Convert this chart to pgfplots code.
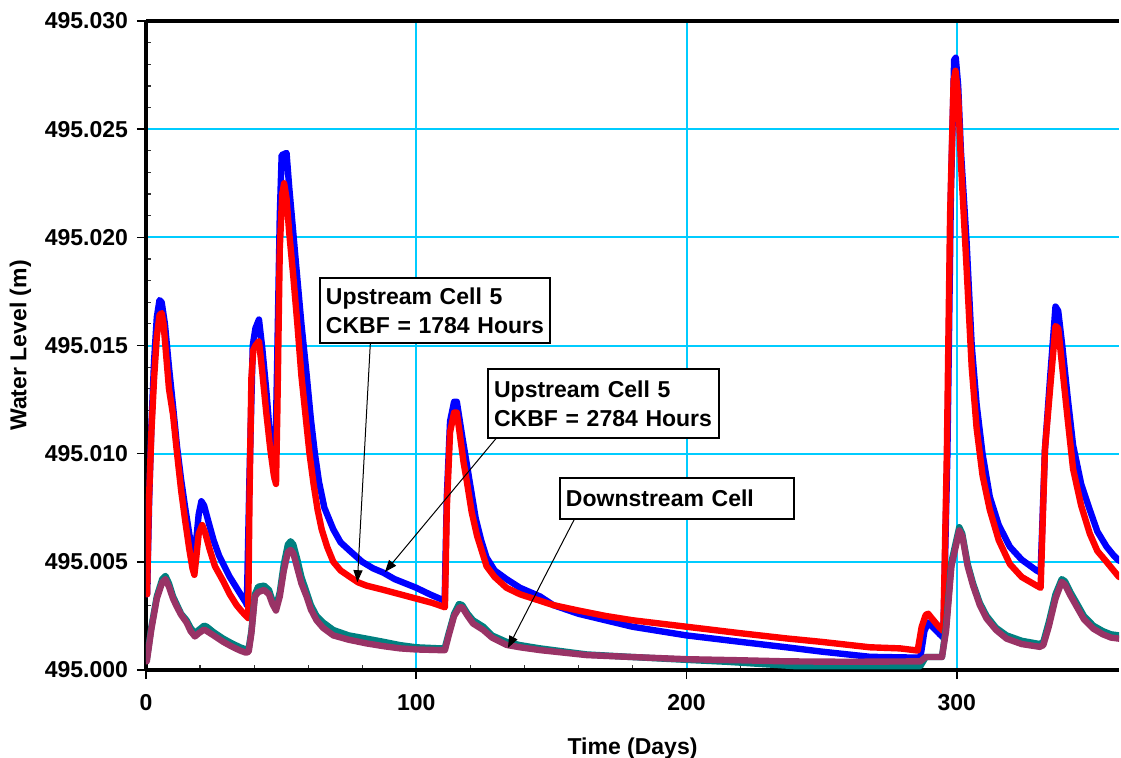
\documentclass[border=0pt]{standalone}
\usepackage{fontspec}
\setmainfont{Liberation Sans}
\usepackage{pgfplots}
\pgfplotsset{compat=1.18}
\usetikzlibrary{calc,arrows.meta}

\definecolor{gridcyan}{RGB}{0,204,255}
\definecolor{dsteal}{RGB}{0,128,128}
\definecolor{dsplum}{RGB}{153,51,102}

\newcommand{\lblfont}{\fontsize{11.5}{13}\selectfont\bfseries}
\newcommand{\boxfont}{\fontsize{11.5}{14.5}\selectfont\bfseries}

\begin{document}
\begin{tikzpicture}
% water level is given in mm above 495.000 m
\begin{axis}[
  name=ax,
  scale only axis,
  width=486.5pt, height=324.5pt,
  xmin=0, xmax=360, ymin=0, ymax=30,
  axis x line*=bottom, axis y line*=left,
  axis line style={line width=2pt, black},
  xtick={0,100,200,300}, minor x tick num=4,
  ytick={0,5,10,15,20,25,30}, minor y tick num=4,
  yticklabels={495.000,495.005,495.010,495.015,495.020,495.025,495.030},
  tick align=outside,
  major tick length=4.5pt, minor tick length=-2.5pt,
  major tick style={line width=0.8pt, black},
  minor tick style={line width=0.6pt, black!80},
  grid=major,
  major grid style={line width=1pt, gridcyan},
  /pgf/number format/assume math mode=true,
  ticklabel style={font=\lblfont},
  xticklabel style={yshift=-4pt},
  yticklabel style={xshift=-1pt},
  xlabel={Time (Days)}, ylabel={Water Level (m)},
  label style={font=\lblfont},
  xlabel style={yshift=-7pt},
  ylabel style={yshift=0pt},
  every axis plot/.append style={line width=3.2pt, line join=round, line cap=round},
]
% Upstream Cell 5, CKBF = 2784 Hours
\addplot[blue] coordinates {
(0.4,3.5)(1.2,8.0)(2.0,11.3)(3.0,14.3)(4.0,16.3)(5.0,17.1)(5.8,17.0)(7.0,16.0)
(8.5,14.0)(10.0,12.2)(11.5,10.3)(13.0,8.8)(14.5,7.5)(16.0,6.3)(17.5,5.2)(18.5,5.9)
(19.5,7.2)(20.5,7.8)(21.5,7.6)(23.0,6.9)(25.0,6.0)(27.0,5.3)(29.0,4.8)(31.0,4.3)
(33.0,3.9)(35.0,3.5)(37.0,3.1)(37.3,3.0)(38.3,9.0)(39.5,15.0)(40.5,15.8)(41.8,16.2)
(43.0,14.9)(44.6,12.8)(46.0,10.6)(47.7,8.8)(48.5,14.0)(49.5,21.0)(50.2,23.8)(52.0,23.9)
(53.0,22.3)(54.5,20.2)(55.7,18.5)(57.5,16.0)(59.4,13.7)(61.0,11.6)(62.5,10.0)(64.0,8.7)
(66.0,7.5)(69.3,6.5)(72.0,5.9)(75.5,5.5)(80.0,5.0)(84.0,4.7)(87.8,4.5)(92.0,4.2)
(96.0,4.0)(100.0,3.8)(105.0,3.5)(110.5,3.2)(111.3,8.0)(112.5,11.5)(114.0,12.4)(115.0,12.4)
(116.0,11.6)(117.0,10.8)(119.9,8.6)(122.0,7.0)(124.0,6.0)(126.0,5.2)(129.0,4.6)(133.4,4.2)
(138.4,3.8)(145.8,3.4)(150.7,3.0)(160,2.6)(170,2.3)(180,2.0)(190,1.8)(200,1.6)
(210,1.45)(220,1.3)(237,1.05)(250,0.85)(267.9,0.61)(286.5,0.57)(288.0,1.8)(289.4,2.2)
(291.0,2.0)(293.7,1.65)(295.0,1.5)(296.5,10)(297.8,22)(299.0,28.2)(299.6,28.3)(300.5,27.0)
(301.5,24.0)(303.6,19.8)(305.5,15.0)(307.3,12.3)(309.5,10.0)(312.2,8.0)(315.5,6.7)(319.6,5.7)
(324.0,5.1)(329.5,4.6)(331.0,4.5)(332.6,10.2)(334.5,13.5)(336.5,16.8)(337.5,16.6)(339.0,15.0)
(341.0,12.6)(343.0,10.4)(346.0,8.6)(349.2,7.4)(352.0,6.4)(355.4,5.7)(358.0,5.3)(360,5.05)
};
% Upstream Cell 5, CKBF = 1784 Hours
\addplot[red] coordinates {
(0.4,3.5)(1.0,7.5)(2.0,11.0)(3.0,13.5)(4.0,15.4)(5.0,16.4)(5.8,16.5)(6.5,16.0)
(7.5,14.5)(8.5,13.0)(10.0,11.8)(11.5,10.0)(13.0,8.3)(14.5,6.9)(16.0,5.6)(17.2,4.7)
(17.9,4.4)(18.6,5.2)(19.5,6.3)(20.8,6.7)(22.0,6.3)(23.5,5.6)(25.5,4.8)(28.6,4.1)
(31.0,3.5)(33.5,3.0)(35.5,2.7)(37.8,2.4)(38.3,8.0)(39.0,13.5)(39.7,14.8)(40.5,15.0)
(41.8,15.2)(43.0,13.8)(44.5,11.9)(46.0,10.2)(47.3,9.0)(48.1,8.6)(48.6,12.0)(49.5,19.5)
(50.4,22.0)(51.1,22.5)(52.0,21.8)(53.0,20.2)(54.5,18.2)(56.0,16.0)(57.5,13.6)(59.0,11.8)
(60.5,10.0)(62.0,8.6)(63.5,7.4)(65.0,6.5)(67.0,5.7)(69.3,5.0)(72.0,4.6)(75.5,4.3)
(78.5,4.05)(81.6,3.9)(88.0,3.7)(94.0,3.5)(100.0,3.3)(106.0,3.1)(110.6,2.9)(111.3,7.5)
(112.5,11.0)(114.0,11.9)(115.0,11.9)(116.0,11.0)(117.5,9.6)(118.6,8.8)(120.5,7.3)(122.5,6.2)
(124.5,5.4)(126.0,4.8)(129.0,4.3)(133.4,3.8)(138.4,3.5)(145.8,3.2)(150.7,3.0)(160,2.75)
(170,2.5)(180,2.3)(190,2.15)(200,2.0)(210,1.85)(220,1.7)(237,1.46)(250,1.3)
(267.9,1.05)(279,1.0)(285.5,0.9)(287.0,2.0)(288.5,2.55)(289.4,2.6)(291.0,2.35)(293.7,1.95)
(295.0,1.8)(296.3,10)(297.5,21)(298.8,27.2)(299.5,27.7)(300.5,26.5)(301.5,23.5)(303.6,18.6)
(305.5,14.0)(307.3,11.2)(309.5,9.0)(312.2,7.4)(315.5,6.0)(319.6,4.9)(324.0,4.3)(329.5,3.9)
(331.0,3.8)(332.6,10.2)(334.5,13.0)(336.5,15.9)(337.5,15.8)(339.0,14.0)(341.0,11.6)(343.0,9.3)
(346.0,7.6)(349.2,6.3)(352.0,5.5)(355.4,5.0)(358.0,4.6)(360,4.3)
};
% Downstream cell, first run
\addplot[dsteal] coordinates {
(0.3,0.5)(2.0,2.0)(4.0,3.4)(6.0,4.2)(7.2,4.35)(8.5,4.0)(10.0,3.4)(11.5,3.0)
(13.0,2.6)(15.0,2.3)(16.5,1.95)(18.1,1.7)(19.5,1.85)(21.5,2.05)(22.5,2.0)(25.0,1.75)
(28.6,1.45)(31.5,1.25)(34.8,1.05)(37.0,0.95)(38.0,1.0)(39.0,1.8)(40.3,3.5)(41.5,3.85)
(43.7,3.9)(45.5,3.7)(46.8,3.2)(48.1,2.9)(49.5,3.6)(51.0,4.9)(52.5,5.8)(53.5,5.95)
(54.5,5.8)(56.0,5.1)(57.5,4.3)(59.4,3.6)(61.0,3.0)(63.1,2.5)(65.5,2.2)(69.3,1.85)
(75.0,1.6)(81.6,1.45)(88.0,1.3)(94.0,1.15)(100,1.05)(108.8,1.0)(110.5,1.0)(112.0,1.7)
(114.0,2.6)(115.8,3.05)(117.0,3.0)(119.0,2.6)(121.0,2.3)(124.8,2.0)(128.0,1.6)(133.4,1.3)
(138.4,1.15)(145.8,1.0)(163,0.72)(180,0.6)(200,0.47)(215,0.38)(225,0.3)(240,0.18)
(286.5,0.18)(288.5,0.6)(294.5,0.6)(296.0,2.0)(298.0,5.0)(300.9,6.6)(302.0,6.3)(304.0,4.9)
(306.0,4.0)(308.5,3.1)(311.0,2.5)(314.5,1.95)(318.4,1.6)(324.0,1.35)(330.7,1.2)(332.0,1.3)
(334.0,2.2)(336.5,3.5)(338.8,4.2)(340.0,4.1)(342.0,3.6)(344.3,3.1)(347.0,2.5)(350.5,2.05)
(354.0,1.8)(357.0,1.65)(360,1.6)
};
% Downstream cell, second run
\addplot[dsplum] coordinates {
(0.3,0.4)(2.0,1.9)(4.0,3.3)(6.0,4.05)(7.2,4.2)(8.5,3.85)(10.0,3.3)(11.3,2.95)
(13.0,2.55)(15.0,2.2)(16.5,1.8)(18.1,1.55)(19.5,1.7)(21.5,1.87)(22.5,1.8)(25.0,1.6)
(28.6,1.3)(31.5,1.1)(34.8,0.9)(37.0,0.8)(38.0,0.85)(39.0,1.7)(40.3,3.4)(41.5,3.6)
(43.7,3.7)(45.5,3.5)(46.8,3.05)(48.1,2.75)(49.5,3.4)(51.0,4.6)(52.5,5.45)(53.5,5.55)
(54.5,5.4)(56.0,4.7)(57.5,4.0)(59.4,3.4)(61.0,2.8)(63.1,2.3)(65.5,1.95)(69.3,1.6)
(75.0,1.4)(81.6,1.23)(88.0,1.1)(94.0,1.0)(100,0.95)(108.8,0.92)(110.6,0.92)(112.0,1.6)
(114.0,2.5)(116.0,2.9)(117.0,2.9)(119.0,2.5)(121.0,2.15)(124.8,1.85)(128.0,1.5)(133.4,1.16)
(138.4,1.05)(145.8,0.92)(163,0.69)(180,0.6)(200,0.5)(220,0.45)(237,0.4)(260,0.38)
(286.5,0.4)(288.5,0.6)(294.5,0.6)(296.0,1.8)(298.0,4.8)(300.9,6.45)(302.0,6.2)(304.0,4.8)
(306.0,3.9)(308.5,3.0)(311.0,2.38)(314.5,1.85)(318.4,1.45)(324.0,1.2)(330.7,1.07)(332.0,1.15)
(334.0,2.0)(336.5,3.3)(338.8,4.07)(340.0,3.95)(342.0,3.45)(344.3,2.94)(347.0,2.35)(350.5,1.91)
(354.0,1.65)(357.0,1.5)(360,1.45)
};
% callouts
\draw[line width=0.5pt, -{Triangle[length=6pt,width=4.5pt]}] (83.0,15.1) -- (78.2,4.06);
\draw[line width=0.5pt, -{Triangle[length=6pt,width=4.5pt]}] (129.5,10.7) -- (88.4,4.53);
\draw[line width=0.5pt, -{Triangle[length=6pt,width=4.5pt]}] (158.7,7.02) -- (133.9,1.02);
\node[draw, fill=white, line width=1pt, anchor=north west, inner xsep=3pt, inner ysep=0pt,
  text width=109pt, minimum height=32.5pt, align=left, font=\boxfont]
  at (64.0,18.16) {Upstream Cell 5\\CKBF = 1784 Hours};
\node[draw, fill=white, line width=1pt, anchor=north west, inner xsep=3pt, inner ysep=0pt,
  text width=109.5pt, minimum height=34.5pt, align=left, font=\boxfont]
  at (126.2,13.96) {Upstream Cell 5\\CKBF = 2784 Hours};
\node[draw, fill=white, line width=1pt, anchor=north west, inner xsep=3pt, inner ysep=0pt,
  text width=111pt, minimum height=20.5pt, align=left, font=\boxfont]
  at (152.8,8.92) {Downstream Cell};
\end{axis}
\draw[line width=2pt] (ax.north west) -- (ax.north east);
\pgfresetboundingbox
\useasboundingbox ($(ax.south west)+(-73pt,-43.5pt)$) rectangle ($(ax.north east)+(1pt,10.5pt)$);
\end{tikzpicture}
\end{document}
